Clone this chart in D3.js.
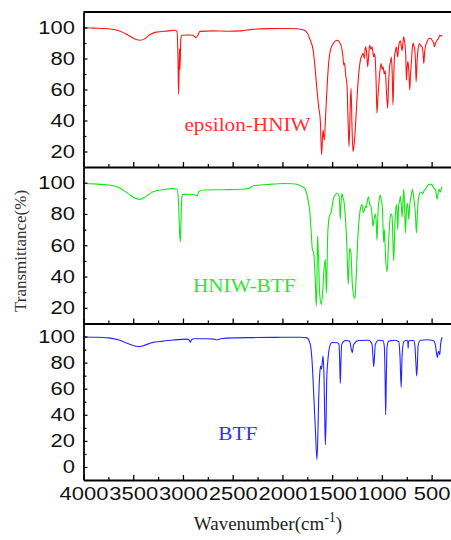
<!DOCTYPE html>
<html>
<head>
<meta charset="utf-8">
<script src="https://cdn.jsdelivr.net/npm/d3@7"></script>
<style>
  body { margin: 0; background: #fff; }
  svg { display: block; }
</style>
</head>
<body>
<div class="chart"></div>
<script>
// [wavenumber (cm-1), transmittance (%)]
const epsilonHNIW = [
  [4000, 99.8], [3900, 99.6], [3750, 99.2], [3650, 98], [3550, 95], [3470, 92.2], [3430, 91.8], [3390, 92.5],
  [3330, 95.5], [3270, 97], [3150, 97.8], [3080, 98.2], [3060, 97.5], [3050, 80], [3044, 57], [3038, 75],
  [3034, 86.5], [3030, 73], [3022, 92], [3012, 95], [2950, 95.2], [2900, 95], [2870, 93.5], [2850, 95],
  [2830, 97.5], [2700, 97.8], [2550, 97.6], [2420, 97.8], [2300, 98.8], [2150, 99.3], [1950, 99.4], [1850, 99.2],
  [1790, 98.5], [1750, 96.5], [1720, 91.8], [1690, 85], [1670, 72.5], [1650, 58], [1636, 49], [1619, 40],
  [1606, 17.9], [1592, 34], [1585, 30], [1578, 27.5], [1568, 40], [1551, 61.8], [1535, 77], [1518, 85.4],
  [1490, 89.5], [1451, 91.8], [1425, 90.5], [1400, 85.4], [1390, 80], [1384, 75.8], [1375, 77], [1365, 70],
  [1350, 61.8], [1340, 40], [1330, 23.2], [1320, 45], [1310, 60.8], [1300, 35], [1290, 20], [1280, 24],
  [1270, 31.8], [1258, 45], [1243, 61.8], [1230, 72], [1216, 79], [1200, 82], [1190, 83.3], [1176, 80],
  [1166, 87.5], [1155, 85], [1143, 74.7], [1133, 82], [1123, 88.6], [1110, 86], [1098, 87.5], [1090, 84],
  [1082, 81], [1074, 83], [1066, 79], [1058, 65], [1049, 44.7], [1040, 55], [1032, 61.8], [1020, 72],
  [1008, 76.8], [998, 73], [988, 74.7], [976, 70], [965, 72], [955, 60], [942, 47.9], [932, 65],
  [922, 75], [913, 78], [905, 81], [896, 70], [888, 50], [880, 70], [872, 82], [863, 85],
  [855, 87.5], [848, 84], [841, 81], [834, 86], [827, 89.7], [814, 91.5], [805, 88], [797, 85],
  [789, 90], [781, 94], [770, 90], [760, 82], [753, 66], [745, 75], [738, 78], [730, 73],
  [720, 59.7], [712, 70], [703, 78], [695, 86], [686, 90], [678, 88], [670, 86], [662, 78],
  [656, 65], [646, 78], [636, 86], [620, 89.7], [608, 88], [596, 87.5], [587, 84], [579, 76.8],
  [570, 84], [559, 88.6], [545, 91], [529, 92.9], [510, 93], [495, 91.8], [480, 90], [472, 87.5],
  [460, 90], [445, 91.8], [430, 93], [418, 95], [405, 94.5], [394, 95]
]

const hniwBTF = [
  [4000, 99.5], [3900, 99.2], [3750, 98.5], [3650, 97], [3550, 93], [3470, 89.8], [3430, 89.3], [3390, 90.5],
  [3300, 94.2], [3200, 95.5], [3100, 96.2], [3060, 95.8], [3045, 88], [3035, 70], [3027, 62], [3020, 75],
  [3012, 90], [3000, 92.5], [2920, 92.6], [2870, 92], [2855, 91.5], [2840, 94.5], [2780, 95.3], [2600, 95.5],
  [2400, 95.8], [2330, 96.5], [2290, 98], [2150, 98.8], [1990, 99.5], [1900, 99.3], [1850, 98.8], [1800, 97.5],
  [1770, 95.7], [1740, 88], [1727, 82.9], [1712, 70], [1699, 57.3], [1686, 55.2], [1675, 45], [1670, 38],
  [1660, 21], [1652, 40], [1647, 65.8], [1641, 58], [1636, 51], [1626, 29.6], [1609, 22], [1596, 29.6],
  [1582, 44.5], [1568, 51], [1558, 29.6], [1550, 50], [1545, 65.8], [1528, 78.6], [1511, 80.8], [1500, 85],
  [1485, 90.4], [1465, 92.5], [1451, 93.2], [1431, 91.5], [1424, 85], [1418, 76.5], [1410, 88], [1401, 93],
  [1390, 90], [1384, 89], [1368, 78.6], [1358, 68], [1351, 57.3], [1338, 35], [1330, 50], [1324, 58],
  [1311, 55], [1298, 36], [1284, 28], [1271, 26], [1258, 40], [1241, 65.8], [1228, 77], [1217, 82.9],
  [1200, 86], [1188, 81], [1177, 82], [1167, 85], [1157, 84], [1145, 89], [1134, 91], [1122, 86],
  [1110, 85], [1100, 80], [1089, 72], [1078, 77], [1066, 80], [1058, 76], [1049, 63], [1040, 80],
  [1029, 88.6], [1016, 92], [1008, 89.3], [995, 84], [982, 62], [975, 70], [962, 51], [948, 43],
  [931, 64], [922, 74], [914, 79], [905, 80], [897, 78], [890, 65], [881, 50], [872, 68],
  [864, 80], [852, 86], [847, 82], [841, 70], [834, 82], [830, 86], [822, 88], [814, 91.5],
  [805, 86], [797, 78], [789, 86], [780, 95.7], [772, 85], [763, 68], [755, 80], [746, 87],
  [738, 84], [730, 76.5], [721, 85], [713, 89], [700, 93.5], [693, 95.7], [683, 92], [673, 87],
  [663, 80], [653, 68], [643, 80], [633, 89.3], [613, 94], [600, 93.5], [586, 93], [575, 95],
  [563, 95.7], [545, 97.5], [529, 98.9], [510, 98.9], [495, 98.5], [480, 96.5], [462, 95.7], [452, 92],
  [445, 89.3], [438, 92], [425, 95.7], [412, 94], [404, 96], [394, 97.5]
]

const btf = [
  [4000, 99.7], [3900, 99.5], [3750, 99], [3650, 97.5], [3550, 94.5], [3470, 92.5], [3440, 92.3], [3400, 93],
  [3300, 95.5], [3228, 96.2], [3100, 97.3], [2960, 98], [2935, 97], [2926, 95.7], [2915, 97.5], [2890, 98.3],
  [2759, 98.3], [2690, 98], [2658, 97.5], [2620, 98.3], [2490, 99], [2300, 99.2], [2000, 99.4], [1820, 99.5],
  [1753, 99], [1720, 94], [1703, 82.5], [1686, 57], [1670, 31], [1653, 5.6], [1642, 30], [1636, 50],
  [1626, 69.7], [1616, 77.4], [1608, 75], [1602, 78], [1592, 85], [1582, 70], [1575, 40], [1568, 17],
  [1560, 40], [1555, 66], [1542, 82.5], [1518, 94], [1501, 95.4], [1451, 95.2], [1431, 94], [1424, 80],
  [1418, 64], [1412, 80], [1404, 94], [1368, 97], [1324, 96.5], [1307, 90], [1297, 87.7], [1284, 94],
  [1233, 97], [1133, 97.2], [1099, 94], [1090, 85], [1082, 77], [1074, 85], [1066, 94], [1032, 97.2],
  [988, 96.8], [975, 92], [968, 70], [962, 40], [955, 70], [948, 92], [931, 96.5], [864, 97.2],
  [830, 96], [818, 85], [806, 61], [797, 85], [780, 96], [753, 97.2], [740, 96.5], [736, 91],
  [732, 96.5], [713, 97], [680, 97], [668, 93], [658, 80], [650, 69.7], [642, 80], [636, 93],
  [613, 97.2], [546, 97.5], [479, 96.8], [462, 93.5], [450, 87], [442, 83.8], [434, 88], [426, 88.5],
  [418, 86], [410, 94], [394, 99.5]
]

const seriesNames = ['epsilon-HNIW', 'HNIW-BTF', 'BTF']
const xTicks = [4000, 3500, 3000, 2500, 2000, 1500, 1000, 500]
const xMinorTicks = [3750, 3250, 2750, 2250, 1750, 1250, 750]
const yTicksTop = [20, 40, 60, 80, 100]
const yMinorTop = [30, 50, 70, 90]
const yTicksBtf = [0, 20, 40, 60, 80, 100]
const yMinorBtf = [10, 30, 50, 70, 90]

const W = 451, H = 540
const stretch = 1.18      // the source image is widened horizontally
const tickStretch = 1.22
const tickFont = '"Liberation Sans", Arial, sans-serif'
const serif = '"Liberation Serif", "Times New Roman", serif'

const panels = [
  { data: epsilonHNIW, name: seriesNames[0], color: '#ff1414', text: '#ff3030', top: 12, bottom: 167,
    domain: [10, 110], ticks: yTicksTop, minor: yMinorTop, label: [2985, 33] },
  { data: hniwBTF, name: seriesNames[1], color: '#14e614', text: '#2ee62e', top: 167, bottom: 323.5,
    domain: [10, 110], ticks: yTicksTop, minor: yMinorTop, label: [2900, 30] },
  { data: btf, name: seriesNames[2], color: '#2424ff', text: '#3030ff', top: 323.5, bottom: 480,
    domain: [-10, 110], ticks: yTicksBtf, minor: yMinorBtf, label: [2645, 21] }
]

const svg = d3.select('.chart').append('svg')
  .attr('width', W)
  .attr('height', H)

svg.append('rect').attr('width', W).attr('height', H).attr('fill', '#fff')

const x = d3.scaleLinear().domain([4000, 300]).range([83.5, 451.5])

panels.forEach((p, i) => {
  const y = d3.scaleLinear().domain(p.domain).range([p.bottom, p.top])
  const g = svg.append('g')

  const line = d3.line()
    .x(d => x(d[0]))
    .y(d => y(d[1]))
    .curve(d3.curveMonotoneX)

  g.append('path')
    .datum(p.data)
    .attr('fill', 'none')
    .attr('stroke', p.color)
    .attr('stroke-width', 1.1)
    .attr('stroke-linejoin', 'round')
    .attr('d', line)

  // series label
  g.append('text')
    .attr('transform', `translate(${x(p.label[0])},${y(p.label[1])}) scale(${stretch},1)`)
    .style('font-family', serif)
    .style('font-size', '18px')
    .attr('fill', p.text)
    .text(p.name)

  // bottom axis, ticks pointing into the panel
  const isLast = i === panels.length - 1
  const xAxis = g.append('g')
    .attr('transform', `translate(0,${p.bottom})`)
    .call(d3.axisBottom(x).tickValues(xTicks).tickSizeInner(-5).tickSizeOuter(0).tickPadding(7)
      .tickFormat(isLast ? d3.format('d') : () => ''))
  xAxis.select('.domain').attr('stroke-width', 1.8)
  xAxis.selectAll('.tick line').attr('stroke-width', 1.3)
  xAxis.selectAll('text')
    .attr('transform', `scale(${tickStretch},1)`)
    .style('font-family', tickFont)
    .style('font-size', '18px')
    .attr('fill', '#111')

  g.append('g')
    .attr('transform', `translate(0,${p.bottom})`)
    .call(d3.axisBottom(x).tickValues(xMinorTicks).tickSizeInner(-3).tickSizeOuter(0).tickFormat(() => ''))
    .call(a => a.select('.domain').remove())
    .selectAll('.tick line').attr('stroke-width', 1.2)

  // left axis
  const yAxis = g.append('g')
    .attr('transform', `translate(${x(4000)},0)`)
    .call(d3.axisLeft(y).tickValues(p.ticks).tickSizeInner(-4).tickSizeOuter(0).tickPadding(7))
  yAxis.select('.domain').attr('stroke-width', 1.8)
  yAxis.selectAll('.tick line').attr('stroke-width', 1.2)
  yAxis.selectAll('text')
    .attr('transform', `scale(${tickStretch},1)`)
    .style('font-family', tickFont)
    .style('font-size', '18px')
    .attr('fill', '#111')

  g.append('g')
    .attr('transform', `translate(${x(4000)},0)`)
    .call(d3.axisLeft(y).tickValues(p.minor).tickSizeInner(-3).tickSizeOuter(0).tickFormat(() => ''))
    .call(a => a.select('.domain').remove())
    .selectAll('.tick line').attr('stroke-width', 1.2)

  if (i === 0) {
    g.append('line')
      .attr('x1', x(4000)).attr('x2', W + 2)
      .attr('y1', p.top).attr('y2', p.top)
      .attr('stroke', '#000')
      .attr('stroke-width', 1.8)
  }
})

// axis titles
svg.append('text')
  .attr('transform', 'translate(26,251) rotate(-90)')
  .attr('text-anchor', 'middle')
  .style('font-family', serif)
  .style('font-size', '17px')
  .attr('fill', '#333')
  .text('Transmittance(%)')

const xt = svg.append('text')
  .attr('x', 268)
  .attr('y', 530)
  .attr('text-anchor', 'middle')
  .style('font-family', serif)
  .style('font-size', '19px')
  .attr('fill', '#222')
xt.append('tspan').text('Wavenumber(cm')
xt.append('tspan').attr('dy', -8).style('font-size', '14px').text('-1')
xt.append('tspan').attr('dy', 8).text(')')
</script>
</body>
</html>
